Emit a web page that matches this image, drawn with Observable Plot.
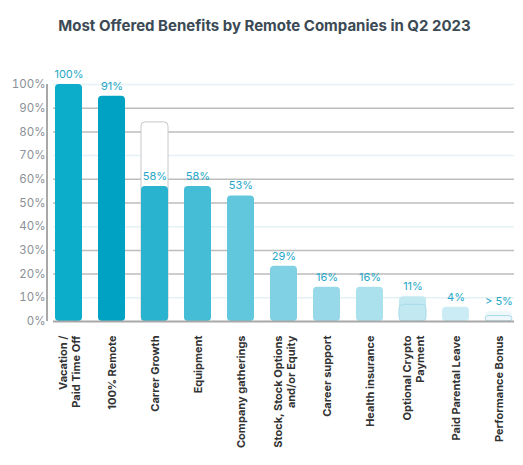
<!DOCTYPE html>
<html>
<head>
<meta charset="utf-8">
<script src="https://cdn.jsdelivr.net/npm/d3@7"></script>
<script src="https://cdn.jsdelivr.net/npm/@observablehq/plot@0.6"></script>
<style>
  body { margin: 0; background: #fff; font-family: Inter, sans-serif; }
  #title { height: 50px; line-height: 52px; text-align: center; font-weight: 700; font-size: 15px; color: #3b4a54; padding-left: 6px; }
</style>
</head>
<body>
<div id="title">Most Offered Benefits by Remote Companies in Q2 2023</div>
<div id="chart"></div>
<script>
const benefits = ["Vacation /\nPaid Time Off", "100% Remote", "Carrer Growth", "Equipment", "Company gatherings",
  "Stock, Stock Options\nand/or Equity", "Career support", "Health insurance", "Optional Crypto\nPayment",
  "Paid Parental Leave", "Performance Bonus"];
// bar heights as drawn in the picture (they don't always match the printed label)
const barHeights = [100, 95, 57, 57, 53, 23.3, 14.5, 14.5, 10.4, 6, 4.1];
const valueLabels = ["100%", "91%", "58%", "58%", "53%", "29%", "16%", "16%", "11%", "4%", "> 5%"];
// white outlined bar behind "Carrer Growth"
const ghostCats = ["Carrer Growth"];
const ghostHeights = [84];
// inner layer on the two smallest bars
const innerCats = ["Optional Crypto\nPayment", "Performance Bonus"];
const innerHeights = [7, 2.3];
const yTicks = [0, 10, 20, 30, 40, 50, 60, 70, 80, 90, 100];
const gridDark = [20, 30, 50, 60, 80, 90];
const gridLight = [10, 40, 70, 100];

const colors = ["#0badcb", "#00a2c3", "#29b3cf", "#45bdd6", "#60c7dd", "#7fd1e3", "#97d9e9", "#abe1ed", "#c2e8f2", "#cbecf4", "#eef8fb"];

const bars = benefits.map((b, i) => ({benefit: b, value: barHeights[i], label: valueLabels[i]}));
const ghosts = ghostCats.map((b, i) => ({benefit: b, value: ghostHeights[i]}));
const inners = innerCats.map((b, i) => ({benefit: b, value: innerHeights[i]}));

const chart = Plot.plot({
  width: 523,
  height: 415,
  marginTop: 34,
  marginLeft: 53,
  marginRight: 9,
  marginBottom: 144,
  style: {fontFamily: "Inter, sans-serif", fontSize: "11px"},
  x: {domain: benefits, paddingInner: 0.38, paddingOuter: 0.03, label: null},
  y: {domain: [0, 100], label: null},
  color: {domain: benefits, range: colors},
  marks: [
    Plot.ruleY(gridDark, {stroke: "#bdbdbd", strokeWidth: 1.5}),
    Plot.ruleY(gridLight, {stroke: "#e4f1f5", strokeWidth: 1.5}),
    Plot.barY(ghosts, {x: "benefit", y: "value", fill: "#fff", stroke: "#c8c8c8", strokeWidth: 1, rx: 4}),
    Plot.barY(bars, {x: "benefit", y: "value", fill: "benefit", rx: 4}),
    Plot.barY(inners, {x: "benefit", y: "value", fill: "benefit", stroke: "#a9dbe8", strokeWidth: 1, rx: 4}),
    Plot.text(bars, {x: "benefit", y: "value", text: "label", dy: -10, fill: "#26a7c7", fontSize: 11}),
    Plot.ruleX([0], {x: () => benefits[0], stroke: "#a8a8a8", strokeWidth: 2, dx: -22, y1: 0, y2: 100}),
    Plot.ruleY([0], {stroke: "#a8a8a8", strokeWidth: 2}),
    Plot.axisY({ticks: yTicks, tickFormat: d => d + "%", tickSize: 0, tickPadding: 8, fill: "#8b9096", fontSize: 11.5}),
    Plot.axisX({tickRotate: -90, tickSize: 0, tickPadding: 14, fontWeight: "bold", fill: "#333", fontSize: 11, lineHeight: 1.2, label: null})
  ]
});

d3.select("#chart").append(() => chart);
</script>
</body>
</html>
